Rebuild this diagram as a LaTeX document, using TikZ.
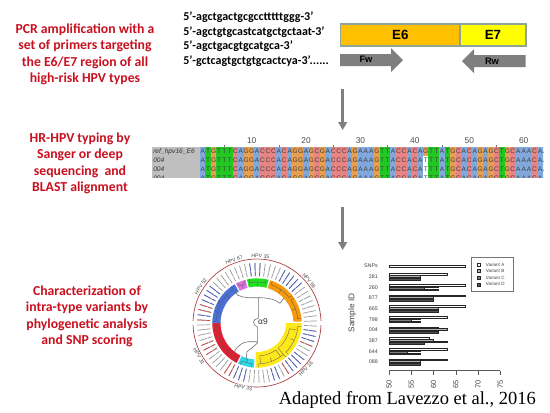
\documentclass[tikz,border=0pt]{standalone}
\usepackage{fontspec}
\usetikzlibrary{arrows.meta}
\setmainfont{Carlito}
\newfontfamily\arialf{Liberation Sans}
\newfontfamily\timesf{Liberation Serif}
\definecolor{headred}{HTML}{C8101E}
\definecolor{seqA}{HTML}{80A8DC}
\definecolor{seqT}{HTML}{22C822}
\definecolor{seqG}{HTML}{E8A050}
\definecolor{seqC}{HTML}{E88484}
\definecolor{arrowgray}{HTML}{7F7F7F}
\definecolor{boxedge}{HTML}{8FA39A}
\definecolor{arcred}{HTML}{A83A3A}
\definecolor{treegray}{HTML}{707070}
\definecolor{leafgray}{HTML}{9A9A9A}
\definecolor{leafblue}{HTML}{5060C0}
\definecolor{leafred}{HTML}{C85050}
\definecolor{e6col}{HTML}{FFC000}
\definecolor{e7col}{HTML}{FFFF00}
\definecolor{ringgreen}{HTML}{22DD22}
\definecolor{ringorange}{HTML}{F59A0C}
\definecolor{ringyellow}{HTML}{FFE81A}
\definecolor{ringcyan}{HTML}{30D8E8}
\definecolor{ringred}{HTML}{E02030}
\definecolor{ringblue}{HTML}{4A70D8}
\definecolor{ringmag}{HTML}{E070E0}
\tikzset{
  heading/.style={text=headred,font=\bfseries\fontsize{10.3}{12.4}\selectfont,align=center,inner sep=0pt},
  primer/.style={anchor=west,inner sep=0pt,font=\bfseries\fontsize{9}{10}\selectfont},
  genebox/.style={draw=boxedge,line width=1pt,minimum height=16.5pt,inner sep=0pt,font=\arialf\bfseries\fontsize{10}{12}\selectfont},
  primerlabel/.style={inner sep=0pt,font=\arialf\bfseries\fontsize{7}{8}\selectfont},
  flowarrow/.style={draw=arrowgray,line width=1.9pt,-{Triangle[width=6.5pt,length=6pt]}},
  base/.style={inner sep=0pt,text=black!75,font=\arialf\fontsize{4.9}{5}\selectfont},
  ruler/.style={inner sep=0pt,text=black!70,font=\arialf\fontsize{6.3}{7}\selectfont},
  rowname/.style={inner sep=0pt,anchor=west,text=black!80,font=\arialf\itshape\fontsize{5}{6}\selectfont},
  clade/.style={draw=black!65,line width=0.25pt},
  tree/.style={draw=treegray,line width=0.45pt},
  leaf/.style={line width=0.55pt,dash pattern=on 3.5pt off 0.5pt on 6pt off 0pt},
  typelabel/.style={inner sep=0.4pt,fill=white,text=black!70,font=\arialf\fontsize{3.9}{4}\selectfont},
  bar/.style={draw=black!85,line width=0.28pt},
  axislabel/.style={inner sep=0pt,text=black!75,font=\arialf\fontsize{4}{5}\selectfont},
  legendtext/.style={inner sep=0pt,anchor=west,text=black!75,font=\arialf\fontsize{3.4}{4}\selectfont},
}
\newcommand{\seqrow}[3]{%
  \foreach \c [count=\i] in {A,T,G,T,T,T,C,A,G,G,A,C,C,C,A,C,A,G,G,A,G,C,G,A,C,C,C,A,G,A,A,A,G,T,T,A,C,C,A,C,A,#2,T,T,A,T,G,C,A,C,A,G,A,G,C,T,G,C,A,A,A,C,A,A}{%
    \def\bgcol{seq\c}\ifnum\i=42 \def\bgcol{#3}\fi
    \fill[\bgcol] ({200+(\i-1)*5.44},#1) rectangle ({200+\i*5.44},#1+9);
    \node[base] at ({200+(\i-0.5)*5.44},#1+4.5) {\c};
  }%
}
\newcommand{\sector}[5]{%
  \fill[#1] (#2:#5) arc[start angle=#2,end angle=#3,radius=#5] -- (#3:#4) arc[start angle=#3,end angle=#2,radius=#4] -- cycle;
}
\newcommand{\vbar}[3]{\draw[bar,fill=#3] (389,#1) rectangle ({389+(#2-50)*4.453},#1+1.6);}
\newcommand{\bargroup}[6]{%
  \node[axislabel,anchor=east] at (378,#2) {#1};
  \vbar{#2-3.2}{#3}{white}
  \vbar{#2-1.6}{#4}{black!30}
  \vbar{#2}{#5}{black!50}
  \vbar{#2+1.6}{#6}{black!68}
}
\begin{document}
\begin{tikzpicture}[x=0.75pt,y=-0.75pt]
\useasboundingbox (0,0) rectangle (550,412);
% headings
\node[heading] (h1) at (85,54.5) {PCR amplification with a\\set of primers targeting\\the E6/E7 region of all\\high-risk HPV types};
\node[heading] (h2) at (80,163.5) {HR-HPV typing by\\Sanger or deep\\sequencing~ and\\BLAST alignment};
\node[heading] (h3) at (87,316.5) {Characterization of\\intra-type variants by\\phylogenetic analysis\\and SNP scoring};
% primers
\node[primer] (p1) at (183,17) {5’-agctgactgcgcctttttggg-3’};
\node[primer] (p2) at (183,32) {5’-agctgtgcastcatgctgctaat-3’};
\node[primer] (p3) at (183,46.5) {5’-agctgacgtgcatgca-3’};
\node[primer] (p4) at (183,61) {5’-gctcagtgctgtgcactcya-3’......};
% gene boxes
\node[genebox,fill=e6col,minimum width=89.5pt] (e6) at (400.4,35) {E6};
\node[genebox,fill=e7col,minimum width=49.5pt] (e7) at (493,35) {E7};
% primer arrows
\fill[arrowgray] (340,54) -- (391,54) -- (391,48) -- (403,60) -- (391,72) -- (391,66) -- (340,66) -- cycle;
\node[primerlabel] (fw) at (366,59.5) {Fw};
\fill[arrowgray] (525.5,55) -- (474,55) -- (474,49) -- (462,61) -- (474,73) -- (474,67) -- (525.5,67) -- cycle;
\node[primerlabel] (rw) at (492,61) {Rw};
% flow arrows
\coordinate (a1s) at (342.7,89); \coordinate (a1e) at (342.7,130);
\coordinate (a2s) at (342.7,207); \coordinate (a2e) at (342.7,250);
\draw[flowarrow] (a1s) -- (a1e);
\draw[flowarrow] (a2s) -- (a2e);
% alignment
\begin{scope}
\clip (152,140) rectangle (543,177.5);
\fill[black!25] (152,147) rectangle (200,178);
\seqrow{147}{G}{seqG}
\seqrow{156}{T}{white}
\seqrow{165}{T}{white}
\seqrow{174}{T}{white}
\node[rowname] at (153,151.5) {ref\_hpv16\_E6};
\node[rowname] at (153,160.5) {004};
\node[rowname] at (153,169.5) {004};
\node[rowname] at (153,178.5) {004};
\end{scope}
\foreach \n in {10,20,30,40,50,60}
  \node[ruler] at ({200+(\n-0.5)*5.44},141) {\n};
\foreach \n in {5,15,25,35,45,55}
  \draw[black!55,line width=0.3pt] ({200+(\n-0.5)*5.44},145) -- ({200+(\n-0.5)*5.44},147);
% circular tree
\begin{scope}[shift={(257,323)},x=0.75pt,y=0.75pt]
\foreach \a in {2,7,...,357} \draw[leaf,leafgray] (\a:47) -- (\a:60);
\foreach \a in {87,92,97,62,57,52,47,42,-8,-13,-18,-38,-43,-48,-53,-68,-73,-103,-108,-113,142,147,152,157,172} \draw[leaf,leafblue] (\a:47) -- (\a:60);
\foreach \a in {-23,-58,-118,-123,-148,-153,-158,162,167,177} \draw[leaf,leafred] (\a:47) -- (\a:60);
\fill[white] (-66,-0.7) rectangle (66,0.7);
\draw[arcred,line width=0.5pt] (2:64) arc[start angle=2,end angle=178,radius=64];
\draw[arcred,line width=0.5pt] (182:64) arc[start angle=182,end angle=358,radius=64];
\node[typelabel,rotate=-3] (t35) at (87:67) {HPV 35};
\node[typelabel,rotate=20] (t67) at (110:67) {HPV 67};
\node[typelabel,rotate=57] (t52) at (147:67) {HPV 52};
\node[typelabel,rotate=-51] (t58) at (39:67) {HPV 58};
\node[typelabel,rotate=-60] (t31) at (210:67) {HPV 31};
\node[typelabel,rotate=-12] (t33) at (-102:66) {HPV 33};
\node[typelabel,rotate=47] (t16) at (-43:67) {HPV 16};
\sector{ringgreen}{75}{103}{36.5}{44.7}
\sector{ringorange}{2}{73}{36.5}{44.7}
\sector{ringyellow}{-92}{0}{29}{44.7}
\sector{ringcyan}{-115}{-94}{36.5}{44.7}
\sector{ringred}{-180}{-117}{36.5}{44.7}
\sector{ringblue}{120}{180}{36.5}{44.7}
\sector{ringmag}{105}{118}{36.5}{44.7}
\foreach \s/\e in {78/100,6/34,38/70,125/150,153/178,-178/-150,-146/-120,-112/-97,107/116,-88/-50,-45/-5} {
  \draw[clade] (\s:41) arc[start angle=\s,end angle=\e,radius=41];
  \draw[clade] (\s:41) -- (\s:44.7);
  \draw[clade] (\e:41) -- (\e:44.7);
  \draw[clade] ({(\s+\e)/2}:41) -- ({(\s+\e)/2}:37);
}
\foreach \s/\e in {-85/-55,-50/-10} {
  \draw[clade] (\s:33) arc[start angle=\s,end angle=\e,radius=33];
  \draw[clade] (\s:33) -- (\s:41);
  \draw[clade] (\e:33) -- (\e:41);
}
\draw[tree] (-21,31) -- (-19.7,28) .. controls (-13,24.5) and (-5,25.3) .. (1.3,25.3) .. controls (8,25.3) and (16,25) .. (23,19.7) -- (27,25);
\draw[tree] (1.3,25.3) -- (1.3,4.7) .. controls (-5,4) and (-5,-2) .. (0.3,-3.7) -- (0.3,-18.7);
\draw[tree] (-22,-30) -- (-22,-27) .. controls (-18,-22) and (-14,-18.7) .. (-8,-18.7) -- (0.3,-18.7) .. controls (3,-18.7) and (-4,-24) .. (-10,-28.7) -- (-11,-37);
\node[inner sep=0pt,text=black!80,font=\arialf\fontsize{6.3}{7}\selectfont] (a9) at (6,1) {α9};
\end{scope}
% bar chart
\node[inner sep=0pt,rotate=90,text=black!75,font=\arialf\fontsize{6.2}{7}\selectfont] (sid) at (352.3,313) {Sample ID};
\node[axislabel,anchor=east] (snp) at (378,266) {SNPs};
\draw[bar,fill=white] (389,265) rectangle ({389+17*4.453},267);
\bargroup{281}{276.7}{63}{57}{55}{57}
\bargroup{260}{287.3}{67}{61}{58}{61}
\bargroup{877}{298}{67}{60}{58}{60}
\bargroup{665}{308.7}{67}{61}{58}{61}
\bargroup{798}{319.3}{63}{57}{55}{57}
\bargroup{004}{330}{61}{63}{60}{61}
\bargroup{387}{340.7}{59}{60}{63}{58}
\bargroup{644}{351.3}{63}{57}{54}{57}
\bargroup{088}{362}{63}{57}{54}{57}
\draw[black!65,line width=0.4pt] (389,370.7) -- (500.3,370.7);
\foreach \v in {50,55,...,75} {
  \draw[black!65,line width=0.4pt] ({389+(\v-50)*4.453},370.7) -- ({389+(\v-50)*4.453},375);
  \node[inner sep=0pt,rotate=90,text=black!75,font=\arialf\fontsize{5.6}{6}\selectfont] at ({389+(\v-50)*4.453},384) {\v};
}
\draw[black!55,line width=0.7pt,fill=white] (471,257.3) rectangle (513,291);
\foreach \y/\f/\t in {264.7/white/A,271/black!30/B,277.7/black!50/C,284.3/black!68/D} {
  \draw[black!85,line width=0.3pt,fill=\f] (477,\y-1.6) rectangle (480.4,\y+1.6);
  \node[legendtext] at (485.7,\y) {Variant \t};
}
% credit
\node[inner sep=0pt,anchor=east,font=\timesf\fontsize{13.85}{16}\selectfont] (credit) at (536,400) {Adapted from Lavezzo et al., 2016};
\end{tikzpicture}
\end{document}
